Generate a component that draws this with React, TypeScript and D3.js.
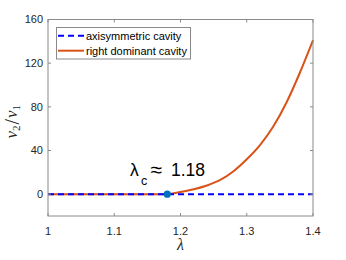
import * as d3 from "d3";

const lambdaDom = [1, 1.18, 1.2, 1.22, 1.24, 1.26, 1.28, 1.3, 1.32, 1.34, 1.36, 1.38, 1.4];
const ratioDom = [0, 0, 2, 4.5, 8, 13, 21, 32, 45, 62, 84, 111, 141];
const lambdaAxi = [1, 1.4];
const ratioAxi = [0, 0];
const critical = { lambda: 1.18, ratio: 0 };
const xTicks = [1, 1.1, 1.2, 1.3, 1.4];
const yTicks = [0, 40, 80, 120, 160];
const seriesNames = ["axisymmetric cavity", "right dominant cavity"];

const W = 346;
const H = 260;
const left = 48;
const right = 313;
const top = 19.5;
const bottom = 216;
const font = "'Liberation Sans', Arial, sans-serif";
const serif = "'Liberation Serif', 'Times New Roman', serif";
const axisColor = "#8a8a8a";
const textColor = "#262626";

export default function App() {
  const x = d3.scaleLinear().domain([1, 1.4]).range([left, right]);
  const y = d3.scaleLinear().domain([-20, 160]).range([bottom, top]);
  const line = d3
    .line<[number, number]>()
    .x((d) => x(d[0]))
    .y((d) => y(d[1]))
    .curve(d3.curveMonotoneX);
  const dom = lambdaDom.map((l, i) => [l, ratioDom[i]] as [number, number]);
  const axi = lambdaAxi.map((l, i) => [l, ratioAxi[i]] as [number, number]);

  return (
    <svg
      width={W}
      height={H}
      style={{ position: "absolute", left: 0, top: 0, background: "#fff" }}
    >
      <path d={line(dom) ?? ""} fill="none" stroke="#D95319" strokeWidth={2} />
      <path
        d={line(axi) ?? ""}
        fill="none"
        stroke="#0000ff"
        strokeWidth={2}
        strokeDasharray="6,4"
      />
      <circle cx={x(critical.lambda)} cy={y(critical.ratio)} r={3.6} fill="#0072BD" />

      {/* box */}
      <rect
        x={left}
        y={top}
        width={right - left}
        height={bottom - top}
        fill="none"
        stroke={axisColor}
        strokeWidth={1}
      />
      {xTicks.map((t) => (
        <g key={"x" + t}>
          <line x1={x(t)} x2={x(t)} y1={bottom} y2={bottom - 3} stroke={axisColor} />
          <line x1={x(t)} x2={x(t)} y1={top} y2={top + 3} stroke={axisColor} />
          <text
            x={x(t)}
            y={bottom + 19}
            textAnchor="middle"
            fontFamily={font}
            fontSize={11}
            fill={textColor}
          >
            {t}
          </text>
        </g>
      ))}
      {yTicks.map((t) => (
        <g key={"y" + t}>
          <line x1={left} x2={left + 3} y1={y(t)} y2={y(t)} stroke={axisColor} />
          <line x1={right} x2={right - 3} y1={y(t)} y2={y(t)} stroke={axisColor} />
          <text
            x={left - 5}
            y={y(t)}
            dy="0.35em"
            textAnchor="end"
            fontFamily={font}
            fontSize={11}
            fill={textColor}
          >
            {t}
          </text>
        </g>
      ))}

      {/* axis labels */}
      <text
        x={(left + right) / 2}
        y={250}
        textAnchor="middle"
        fontFamily={serif}
        fontStyle="italic"
        fontSize={16}
        fill={textColor}
      >
        λ
      </text>
      <g transform={`translate(17,${(top + bottom) / 2 + 4}) rotate(-90)`}>
        <text textAnchor="middle" fontFamily={serif} fontStyle="italic" fontSize={17} fill={textColor}>
          <tspan>v</tspan>
          <tspan fontSize={11} fontStyle="normal" dy={3}>2</tspan>
          <tspan fontStyle="normal" fontSize={20} dy={-1} dx={1}>/</tspan>
          <tspan dy={-2} dx={1}>v</tspan>
          <tspan fontSize={11} fontStyle="normal" dy={3}>1</tspan>
        </text>
      </g>

      {/* annotation */}
      <g fontFamily={font} fill="#000">
        <text x={130} y={176} fontSize={17.5}>λ</text>
        <text x={141} y={185} fontSize={12.5}>c</text>
        <text x={150.5} y={177} fontSize={21}>≈</text>
        <text x={171} y={176} fontSize={17.5}>1.18</text>
      </g>

      {/* legend */}
      <rect x={56.5} y={27.5} width={134} height={31.5} fill="#fff" stroke={axisColor} />
      <line x1={58} x2={84} y1={35.7} y2={35.7} stroke="#0000ff" strokeWidth={2} strokeDasharray="6,4" />
      <line x1={58} x2={84} y1={50.7} y2={50.7} stroke="#D95319" strokeWidth={2} />
      {seriesNames.map((s, i) => (
        <text
          key={s}
          x={86}
          y={35.7 + i * 15}
          dy="0.35em"
          fontFamily={font}
          fontSize={11}
          fill="#000"
        >
          {s}
        </text>
      ))}
    </svg>
  );
}
